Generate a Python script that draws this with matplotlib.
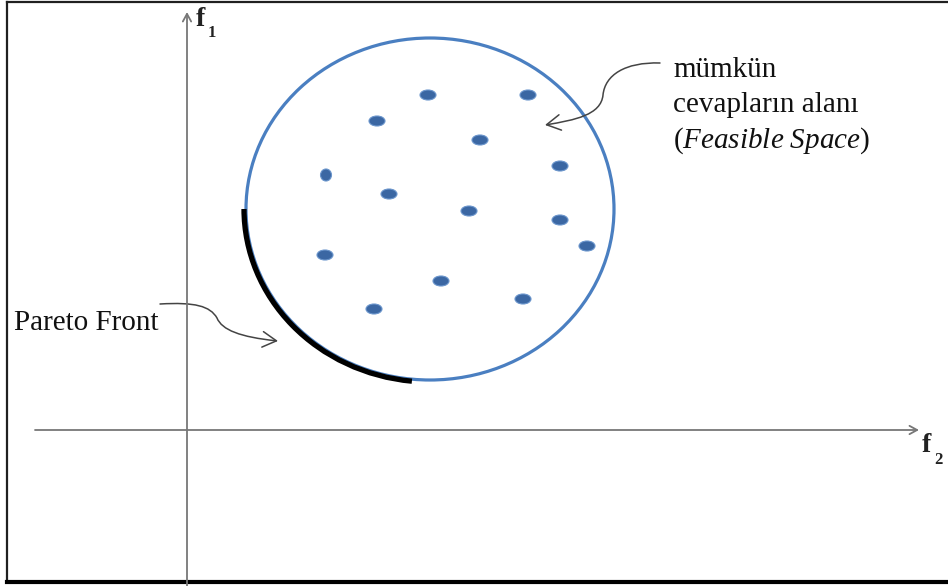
import matplotlib
matplotlib.use("Agg")
import matplotlib.pyplot as plt
from matplotlib.patches import Ellipse, Arc, FancyArrowPatch
from matplotlib.path import Path

plt.rcParams['font.family'] = ['Liberation Serif', 'DejaVu Serif']
plt.rcParams['mathtext.fontset'] = 'custom'
plt.rcParams['mathtext.rm'] = 'Liberation Serif'
plt.rcParams['mathtext.it'] = 'Liberation Serif:italic'

# objective space (f2 horizontal, f1 vertical), origin where the axes cross
f2_limits = (-187, 761)
f1_limits = (-156, 430)

# feasible region
region_center = (243, 221)
region_width = 368
region_height = 342
front_angles = (180, 264)  # part of the boundary that forms the Pareto front

# feasible solutions
sol_f2 = [241, 341, 190, 293, 373, 139, 202, 282, 373, 400, 138, 254, 336, 187]
sol_f1 = [335, 335, 309, 290, 264, 255, 236, 219, 210, 184, 175, 149, 131, 121]
sol_w = [16, 16, 16, 16, 16, 11, 16, 16, 16, 16, 16, 16, 16, 16]
sol_h = [10, 10, 10, 10, 10, 12, 10, 10, 10, 10, 10, 10, 10, 10]

label_space = ['mümkün', 'cevapların alanı', r'($\mathit{Feasible\ Space}$)']
label_front = 'Pareto Front'

fig = plt.figure(figsize=(9.48, 5.86), dpi=100)
ax = fig.add_axes([0, 0, 1, 1])
ax.set_xlim(*f2_limits)
ax.set_ylim(*f1_limits)
ax.axis('off')

# frame around the drawing
ax.plot([-180, 760], [428, 428], color='#202020', lw=1.6, clip_on=False)
ax.plot([-180, -180], [428, -152], color='#202020', lw=1.6, clip_on=False)
ax.plot([-180, 760], [-152, -152], color='black', lw=3, clip_on=False)

# axes with open arrow heads
axis_kw = dict(arrowstyle='->,head_length=0.55,head_width=0.3', color='#777777',
               lw=1.3, shrinkA=0, shrinkB=0)
ax.annotate('', xy=(732, 0), xytext=(-152, 0), arrowprops=axis_kw)
ax.annotate('', xy=(0, 418), xytext=(0, -156), arrowprops=axis_kw)

ax.text(9, 404, 'f', fontsize=20, fontweight='bold', color='#222222', va='baseline')
ax.text(21, 393, '1', fontsize=12, fontweight='bold', color='#222222', va='baseline')
ax.text(735, -22, 'f', fontsize=20, fontweight='bold', color='#222222', va='baseline')
ax.text(747, -34, '2', fontsize=12, fontweight='bold', color='#222222', va='baseline')

# feasible region boundary
ax.add_patch(Ellipse(region_center, region_width, region_height, fill=False,
                     edgecolor='#4a7fc1', lw=2.3))
ax.add_patch(Arc(region_center, region_width + 4, region_height + 4,
                 theta1=front_angles[0], theta2=front_angles[1],
                 edgecolor='black', lw=3.8))

for x, y, w, h in zip(sol_f2, sol_f1, sol_w, sol_h):
    ax.add_patch(Ellipse((x, y), w, h, facecolor='#3b67a3', edgecolor='#6a95cc', lw=0.8))

# labels with curly pointers
for i, line in enumerate(label_space):
    ax.text(486, 353 - 35.5 * i, line, fontsize=21, color='#111111', va='baseline')
ax.text(-173, 100, label_front, fontsize=21, color='#111111', va='baseline')

arrow_kw = dict(arrowstyle='->,head_length=0.5,head_width=0.28', mutation_scale=20,
                color='#444444', lw=1.1, shrinkA=0, shrinkB=0)
space_path = Path([(473, 367), (438, 368), (418, 355), (416, 335),
                   (414, 315), (388, 310), (358, 305)],
                  [Path.MOVETO, Path.CURVE4, Path.CURVE4, Path.CURVE4,
                   Path.CURVE4, Path.CURVE4, Path.CURVE4])
front_path = Path([(-27, 126), (8, 128), (23, 124), (30, 112),
                   (35, 100), (53, 93), (91, 89)],
                  [Path.MOVETO, Path.CURVE4, Path.CURVE4, Path.CURVE4,
                   Path.CURVE4, Path.CURVE4, Path.CURVE4])
ax.add_patch(FancyArrowPatch(path=space_path, **arrow_kw))
ax.add_patch(FancyArrowPatch(path=front_path, **arrow_kw))

fig.savefig('out.png', dpi=100)
